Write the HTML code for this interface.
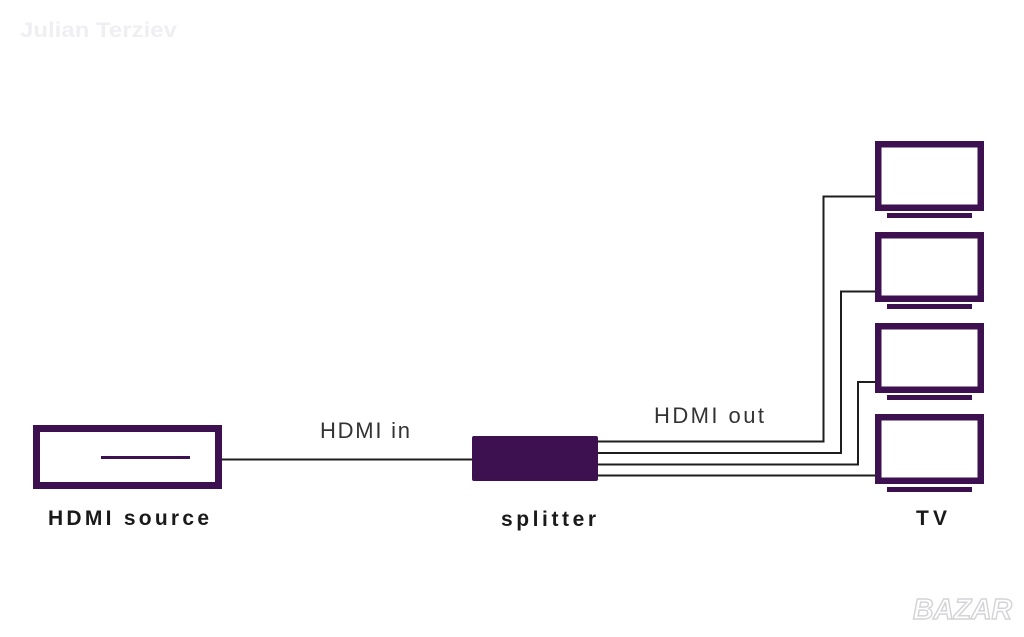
<!DOCTYPE html>
<html>
<head>
<meta charset="utf-8">
<style>
  html,body{margin:0;padding:0;background:#fff;}
  body{width:1024px;height:637px;overflow:hidden;}
  svg{display:block;}
</style>
</head>
<body>
<svg width="1024" height="637" viewBox="0 0 1024 637" xmlns="http://www.w3.org/2000/svg">
  <rect x="0" y="0" width="1024" height="637" fill="#ffffff"/>

  <!-- watermark -->
  <text x="20" y="37" font-family="Liberation Sans, sans-serif" font-weight="bold" font-size="21" fill="#efeff3" textLength="157" lengthAdjust="spacingAndGlyphs">Julian Terziev</text>

  <!-- connectors -->
  <g stroke="#1e1e1e" stroke-width="2" fill="none">
    <line x1="222" y1="459.5" x2="473" y2="459.5"/>
    <polyline points="598,441.5 823.5,441.5 823.5,196.5 876,196.5"/>
    <polyline points="598,453 841,453 841,291.5 876,291.5"/>
    <polyline points="598,464.5 858,464.5 858,382 876,382"/>
    <line x1="598" y1="475.5" x2="876" y2="475.5"/>
  </g>

  <!-- HDMI source -->
  <rect x="36.5" y="428.5" width="182" height="57" fill="#fff" stroke="#3d1150" stroke-width="7"/>
  <line x1="101" y1="457.5" x2="190" y2="457.5" stroke="#3d1150" stroke-width="3"/>

  <!-- splitter -->
  <rect x="472" y="436" width="126" height="45" rx="2" ry="2" fill="#3d1150"/>

  <!-- TVs -->
  <g fill="#fff" stroke="#3d1150" stroke-width="6.5">
    <rect x="878.25" y="144.25" width="102.5" height="63.5"/>
    <rect x="878.25" y="235.25" width="102.5" height="63.5"/>
    <rect x="878.25" y="326.25" width="102.5" height="63.5"/>
    <rect x="878.25" y="417.25" width="102.5" height="63.5"/>
  </g>
  <g fill="#3d1150">
    <rect x="887" y="213" width="85" height="5"/>
    <rect x="887" y="304" width="85" height="5"/>
    <rect x="887" y="395" width="85" height="5"/>
    <rect x="887" y="487" width="85" height="5"/>
  </g>

  <!-- labels -->
  <g font-family="Liberation Sans, sans-serif" fill="#333333">
    <text x="320" y="438" font-size="22" textLength="90" lengthAdjust="spacing">HDMI in</text>
    <text x="654" y="423" font-size="22" textLength="110" lengthAdjust="spacing">HDMI out</text>
  </g>
  <g font-family="Liberation Sans, sans-serif" font-weight="bold" fill="#1a1a1a" font-size="21">
    <text x="48" y="525" textLength="161" lengthAdjust="spacing">HDMI source</text>
    <text x="501" y="526" textLength="95" lengthAdjust="spacing">splitter</text>
    <text x="916" y="525" textLength="31" lengthAdjust="spacing">TV</text>
  </g>

  <!-- BAZAR logo -->
  <text x="913" y="619" font-family="Liberation Sans, sans-serif" font-weight="bold" font-style="italic" font-size="29" fill="#ffffff" stroke="#d4d4d8" stroke-width="1.5" textLength="99" lengthAdjust="spacingAndGlyphs">BAZAR</text>
</svg>
</body>
</html>
